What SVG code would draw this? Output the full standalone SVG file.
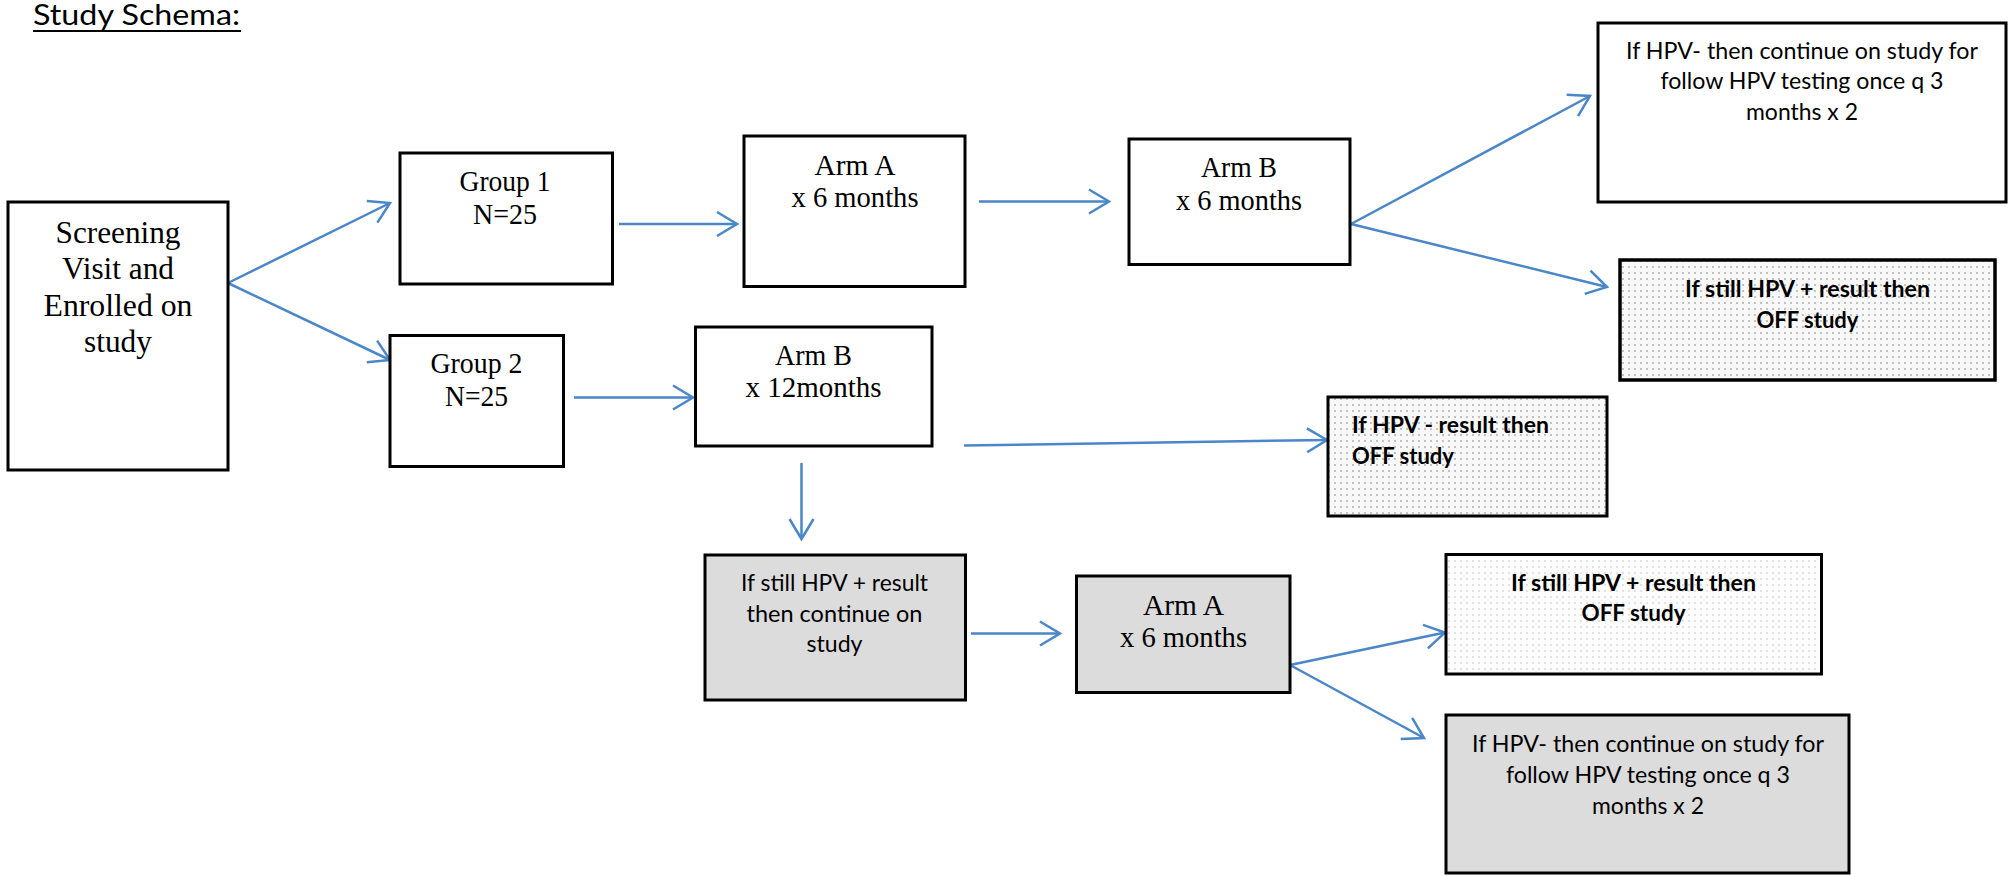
<svg xmlns="http://www.w3.org/2000/svg" width="2008" height="876" viewBox="0 0 2008 876">
<style>
.box{fill:#fff;stroke:#000;stroke-width:3}
.gray{fill:#dcdcdc}
.dots{fill:url(#dotDark)}
.dotsLight{fill:url(#dotLight)}
.serif{font-family:"Liberation Serif","Times New Roman",serif;font-size:29px;fill:#000;text-anchor:middle}
.sans{font-family:Lato,"Liberation Sans",sans-serif;font-size:22.5px;fill:#000;text-anchor:middle}
.b{font-weight:bold}
.conn{stroke:#4a86c8;stroke-width:2.5;fill:none;marker-end:url(#arr)}
</style>
<defs>
<pattern id="dotDark" width="6" height="6" patternUnits="userSpaceOnUse">
<rect width="6" height="6" fill="#f8f8f8"/>
<circle cx="3" cy="3" r="0.9" fill="#a8a8a8"/>
</pattern>
<pattern id="dotLight" width="6" height="6" patternUnits="userSpaceOnUse">
<rect width="6" height="6" fill="#fdfdfd"/>
<circle cx="3" cy="3" r="0.9" fill="#d6d6d6"/>
</pattern>
<marker id="arr" markerUnits="userSpaceOnUse" markerWidth="30" markerHeight="28" viewBox="0 0 30 28" refX="23" refY="14" orient="auto" overflow="visible">
<path d="M3,2 L23,14 L3,26" fill="none" stroke="#4a86c8" stroke-width="2.5"/>
</marker>
</defs>
<rect width="2008" height="876" fill="#fff"/>

<g id="title">
<text x="33" y="25" font-family="Lato,'Liberation Sans',sans-serif" font-size="28" textLength="207" lengthAdjust="spacingAndGlyphs">Study Schema:</text>
<line x1="33" y1="31" x2="241" y2="31" stroke="#000" stroke-width="2"/>
</g>

<g id="connectors">
<path class="conn" d="M228,283 L390,203"/>
<path class="conn" d="M228,283 L390,360"/>
<path class="conn" d="M619,224 L737,224"/>
<path class="conn" d="M979,201.5 L1109,201.5"/>
<path class="conn" d="M1351,224 L1590,96"/>
<path class="conn" d="M1351,224 L1607,287"/>
<path class="conn" d="M574,397.5 L693,397.5"/>
<path class="conn" d="M964,445.5 L1327,440"/>
<path class="conn" d="M801.5,463 L801.5,539"/>
<path class="conn" d="M971,633.5 L1060,633.5"/>
<path class="conn" d="M1290,665 L1445,632.5"/>
<path class="conn" d="M1290,665 L1424,738"/>
</g>

<g id="screening">
<rect class="box" x="8" y="202" width="220" height="268"/>
<text class="serif" style="font-size:31px" x="118" y="243" textLength="125" lengthAdjust="spacingAndGlyphs">Screening</text>
<text class="serif" style="font-size:31px" x="118" y="279" textLength="112" lengthAdjust="spacingAndGlyphs">Visit and</text>
<text class="serif" style="font-size:31px" x="118" y="316" textLength="149" lengthAdjust="spacingAndGlyphs">Enrolled on</text>
<text class="serif" style="font-size:31px" x="118" y="352" textLength="68" lengthAdjust="spacingAndGlyphs">study</text>
</g>

<g id="group1">
<rect class="box" x="400" y="153" width="212.5" height="131"/>
<text class="serif" x="505" y="191" textLength="91" lengthAdjust="spacingAndGlyphs">Group 1</text>
<text class="serif" x="505" y="224" textLength="64" lengthAdjust="spacingAndGlyphs">N=25</text>
</g>

<g id="armA1">
<rect class="box" x="744" y="136" width="221" height="150.5"/>
<text class="serif" x="855" y="175" textLength="81" lengthAdjust="spacingAndGlyphs">Arm A</text>
<text class="serif" x="855" y="207" textLength="127" lengthAdjust="spacingAndGlyphs">x 6 months</text>
</g>

<g id="armB1">
<rect class="box" x="1129" y="139" width="221" height="125.5"/>
<text class="serif" x="1239" y="176.5" textLength="76" lengthAdjust="spacingAndGlyphs">Arm B</text>
<text class="serif" x="1239" y="210" textLength="126" lengthAdjust="spacingAndGlyphs">x 6 months</text>
</g>

<g id="hpvNegTop">
<rect class="box" x="1598" y="23" width="408" height="179"/>
<text class="sans" x="1802" y="59" textLength="352" lengthAdjust="spacingAndGlyphs">If HPV- then continue on study for</text>
<text class="sans" x="1802" y="89" textLength="283" lengthAdjust="spacingAndGlyphs">follow HPV testing once q 3</text>
<text class="sans" x="1802" y="120" textLength="112" lengthAdjust="spacingAndGlyphs">months x 2</text>
</g>

<g id="offTop">
<rect class="box dots" x="1620" y="260" width="375" height="120" style="stroke-width:3.5"/>
<text class="sans b" x="1807.5" y="296.5" textLength="245" lengthAdjust="spacingAndGlyphs">If still HPV + result then</text>
<text class="sans b" x="1807.5" y="328" textLength="102" lengthAdjust="spacingAndGlyphs">OFF study</text>
</g>

<g id="group2">
<rect class="box" x="390" y="335.5" width="173.5" height="131"/>
<text class="serif" x="476.5" y="373" textLength="92" lengthAdjust="spacingAndGlyphs">Group 2</text>
<text class="serif" x="476.5" y="405.5" textLength="63" lengthAdjust="spacingAndGlyphs">N=25</text>
</g>

<g id="armB12">
<rect class="box" x="695.5" y="327" width="236.5" height="119"/>
<text class="serif" x="813.5" y="365" textLength="77" lengthAdjust="spacingAndGlyphs">Arm B</text>
<text class="serif" x="813.5" y="397" textLength="136" lengthAdjust="spacingAndGlyphs">x 12months</text>
</g>

<g id="hpvNegOff">
<rect class="box dots" x="1328" y="397" width="279" height="119"/>
<text class="sans b" x="1352" y="433" style="text-anchor:start" textLength="197" lengthAdjust="spacingAndGlyphs">If HPV - result then</text>
<text class="sans b" x="1352" y="464" style="text-anchor:start" textLength="102" lengthAdjust="spacingAndGlyphs">OFF study</text>
</g>

<g id="stillPosContinue">
<rect class="box gray" x="705" y="555" width="260.5" height="145"/>
<text class="sans" x="834.5" y="591" textLength="187" lengthAdjust="spacingAndGlyphs">If still HPV + result</text>
<text class="sans" x="834.5" y="621.5" textLength="176" lengthAdjust="spacingAndGlyphs">then continue on</text>
<text class="sans" x="834.5" y="651.5" textLength="56" lengthAdjust="spacingAndGlyphs">study</text>
</g>

<g id="armA2">
<rect class="box gray" x="1076.5" y="576" width="213.5" height="116.5"/>
<text class="serif" x="1183.5" y="615" textLength="81" lengthAdjust="spacingAndGlyphs">Arm A</text>
<text class="serif" x="1183.5" y="646.5" textLength="127" lengthAdjust="spacingAndGlyphs">x 6 months</text>
</g>

<g id="offBottom">
<rect class="box dotsLight" x="1446" y="554.5" width="375.5" height="119.5"/>
<text class="sans b" x="1633.5" y="590.5" textLength="245" lengthAdjust="spacingAndGlyphs">If still HPV + result then</text>
<text class="sans b" x="1633.5" y="621" textLength="104" lengthAdjust="spacingAndGlyphs">OFF study</text>
</g>

<g id="hpvNegBottom">
<rect class="box gray" x="1446" y="715" width="403" height="158"/>
<text class="sans" x="1648" y="751.5" textLength="352" lengthAdjust="spacingAndGlyphs">If HPV- then continue on study for</text>
<text class="sans" x="1648" y="782.5" textLength="284" lengthAdjust="spacingAndGlyphs">follow HPV testing once q 3</text>
<text class="sans" x="1648" y="813.5" textLength="112" lengthAdjust="spacingAndGlyphs">months x 2</text>
</g>
</svg>
